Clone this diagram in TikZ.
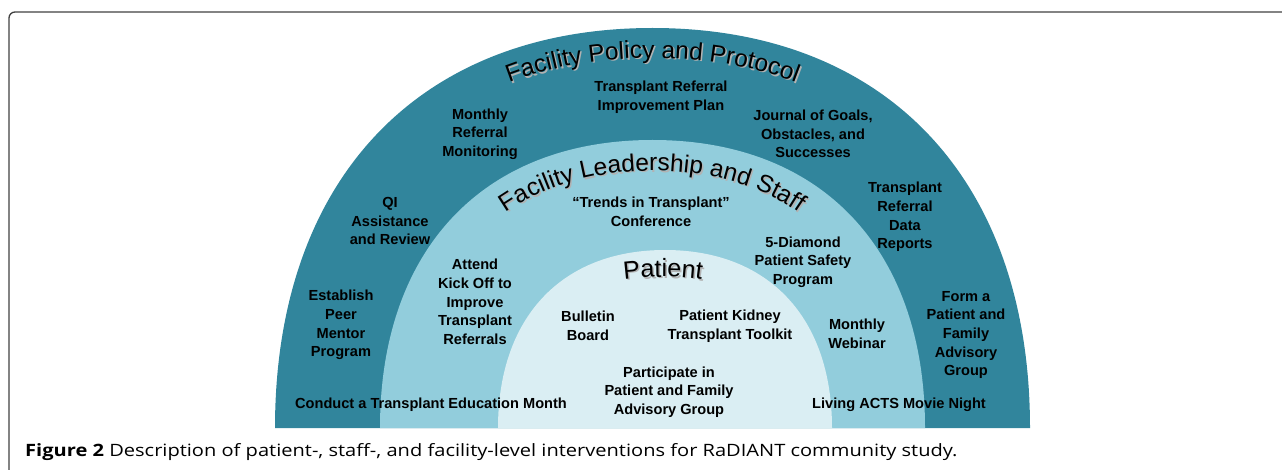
\documentclass[tikz,border=0pt]{standalone}
\usepackage{fontspec}
\setmainfont{Liberation Sans}
\newfontfamily\legendafont[FakeStretch=1.18]{Open Sans}
\usetikzlibrary{decorations.text}
\definecolor{azulescuro}{RGB}{49,133,156}
\definecolor{azulmedio}{RGB}{146,205,220}
\definecolor{azulclaro}{RGB}{218,238,243}
\newcommand{\fonteexterna}{\fontsize{24.5}{24.5}\selectfont}
\newcommand{\fontemedia}{\fontsize{24.5}{24.5}\selectfont}
\newcommand{\fonteinterna}{\fontsize{25}{25}\selectfont}
\tikzset{
  rotulo/.style={
    font=\fontsize{14.6}{18.7}\selectfont\bfseries, align=center,
    inner sep=0pt, text=black
  },
  titulo/.style={
    decorate, decoration={text along path, text align=center, text={#1}}
  },
}

\begin{document}
\begin{tikzpicture}[
    x=1pt, y=-1pt,
    moldura/.style={
        line width=1.3pt,
        draw=black!75,
        rounded corners=6pt
    }
]
\useasboundingbox (0,0) rectangle (1282,470);

\draw[moldura] (9,470) -- (9,12) -- (1290,12);

% three bands, outside in
\fill[azulescuro] (275,428) .. controls (275,180) and (418.5,28) .. (652.5,28)
    .. controls (886.5,28) and (1030,180) .. (1030,428) -- cycle;
\fill[azulmedio] (380,428) .. controls (380,249.4) and (483.5,140) .. (652.5,140)
    .. controls (821.5,140) and (925,249.4) .. (925,428) -- cycle;
\fill[azulclaro] (498,428) .. controls (498,317.6) and (561.5,250) .. (665,250)
    .. controls (768.5,250) and (832,317.6) .. (832,428) -- cycle;

% curved titles, soft shadow first
\foreach \desvio/\tom in {1.5/black!30, 0/black} {
  \begin{scope}[shift={(\desvio,\desvio)}, decoration={text color=\tom}]
    \path[titulo={|\fonteexterna|Facility Policy and Protocol}]
        (305,428) .. controls (305,198.6) and (437,58) .. (652.5,58)
        .. controls (868,58) and (1000,198.6) .. (1000,428);
    \path[titulo={|\fontemedia|Facility Leadership and Staff}]
        (409.5,428) .. controls (409.5,268) and (501.8,171) .. (652.5,171)
        .. controls (803.2,171) and (895.5,268) .. (895.5,428);
    \path[titulo={|\fonteinterna|Patient}]
        (483,428) .. controls (483,334) and (551.4,277) .. (663,277)
        .. controls (774.6,277) and (843,334) .. (843,428);
  \end{scope}
}

\node[rotulo] (plan) at (661,97) {Transplant Referral\\Improvement Plan};
\node[rotulo] (monitoring) at (480,134) {Monthly\\Referral\\Monitoring};
\node[rotulo] (journal) at (813,134) {Journal of Goals,\\Obstacles, and\\Successes};
\node[rotulo] (qi) at (390,221) {QI\\Assistance\\and Review};
\node[rotulo] (reports) at (905,217) {Transplant\\Referral\\Data\\Reports};
\node[rotulo] (mentor) at (341,325) {Establish\\Peer\\Mentor\\Program};
\node[rotulo] (advisory) at (966,335) {Form a\\Patient and\\Family\\Advisory\\Group};
\node[rotulo] (month) at (431,405) {Conduct a Transplant Education Month};
\node[rotulo] (movie) at (899,405) {Living ACTS Movie Night};

\node[rotulo] (trends) at (651,211.5) {``Trends in Transplant''\\Conference};
\node[rotulo] (kickoff) at (475,302) {Attend\\Kick Off to\\Improve\\Transplant\\Referrals};
\node[rotulo] (diamond) at (803,262) {5-Diamond\\Patient Safety\\Program};
\node[rotulo] (webinar) at (857,334) {Monthly\\Webinar};

\node[rotulo] (bulletin) at (588,326) {Bulletin\\Board};
\node[rotulo] (toolkit) at (730,326) {Patient Kidney\\Transplant Toolkit};
\node[rotulo] (participate) at (669,392) {Participate in\\Patient and Family\\Advisory Group};

\node[anchor=base west, inner sep=0pt, font=\legendafont\fontsize{17}{17}\selectfont]
    (legenda) at (25,456)
    {\textbf{Figure 2} Description of patient-, staff-, and facility-level interventions for RaDIANT community study.};

\end{tikzpicture}
\end{document}
